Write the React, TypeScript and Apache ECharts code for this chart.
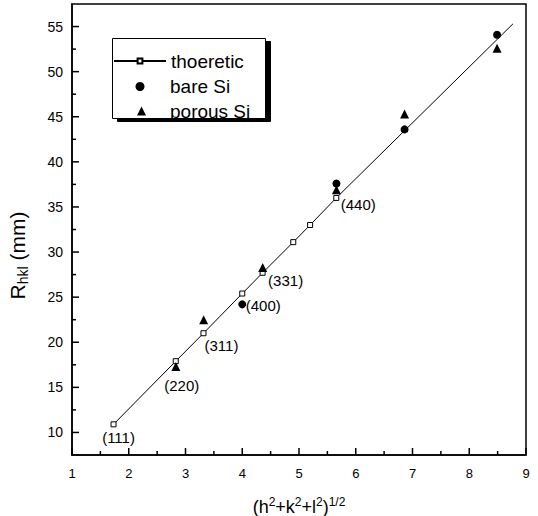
import React, { useEffect, useRef } from "react";
import * as echarts from "echarts";

const theoX = [1.732, 2.828, 3.317, 4.0, 4.359, 4.899, 5.196, 5.657];
const theoY = [10.9, 17.9, 21.0, 25.4, 27.7, 31.1, 33.0, 36.0];
const theoLabels = ["(111)", "(220)", "(311)", "(400)", "(331)", "", "", "(440)"];
const theoLineEnd = [8.77, 55.3];
const bareX = [4.0, 5.66, 6.86, 8.49];
const bareY = [24.2, 37.6, 43.6, 54.1];
const porousX = [2.83, 3.32, 4.36, 5.66, 6.86, 8.49];
const porousY = [17.3, 22.5, 28.3, 36.9, 45.3, 52.6];
const xTicks = [1, 2, 3, 4, 5, 6, 7, 8, 9];
const xMinorTicks = [1.5, 2.5, 3.5, 4.5, 5.5, 6.5, 7.5, 8.5];
const yTicks = [10, 15, 20, 25, 30, 35, 40, 45, 50, 55];
const yMinorTicks = [12.5, 17.5, 22.5, 27.5, 32.5, 37.5, 42.5, 47.5, 52.5];
const X_MIN = 1;
const X_MAX = 9;
const Y_MIN = 7.5;
const Y_MAX = 57.5;

const labelOffsets: number[][] = [
  [5, 13], [6, 24], [18, 12], [21, 12], [23, 8], [0, 0], [0, 0], [22, 7],
];

const FONT = "Liberation Sans, Arial, Helvetica, sans-serif";

const tickSeries = (data: number[][], size: number[], offset: number[]) => ({
  type: "scatter",
  data,
  symbol: "rect",
  symbolSize: size,
  symbolOffset: offset,
  itemStyle: { color: "#000", opacity: 1 },
  silent: true,
  clip: false,
  z: 4,
});

export default function App() {
  const ref = useRef<HTMLDivElement>(null);
  useEffect(() => {
    if (!ref.current) return;
    const chart = echarts.init(ref.current, undefined, { renderer: "svg" });
    const theoData: any[] = theoX.map((x, i) => ({
      value: [x, theoY[i]],
      label: theoLabels[i]
        ? {
            show: true,
            formatter: theoLabels[i],
            position: "inside",
            offset: labelOffsets[i],
            color: "#000",
            fontSize: 15,
            fontFamily: FONT,
          }
        : { show: false },
    }));
    theoData.push({ value: theoLineEnd, symbol: "none", label: { show: false } });

    const option: any = {
      animation: false,
      backgroundColor: "#fff",
      grid: {
        left: 72,
        right: 12,
        top: 4,
        bottom: 61,
        containLabel: false,
        outerBoundsMode: "none",
        show: true,
        borderColor: "#000",
        borderWidth: 1.5,
      },
      xAxis: {
        type: "value",
        min: X_MIN,
        max: X_MAX,
        interval: 1,
        name: "{t|(h}{u|2}{t|+k}{u|2}{t|+l}{u|2}{t|)}{u|1/2}",
        nameLocation: "middle",
        nameGap: 41,
        nameTextStyle: {
          color: "#000",
          fontFamily: FONT,
          rich: {
            t: { fontSize: 18, fontFamily: FONT, color: "#000", verticalAlign: "middle", lineHeight: 22 },
            u: { fontSize: 12, fontFamily: FONT, color: "#000", verticalAlign: "top", lineHeight: 6 },
          },
        },
        axisLine: { show: true, onZero: false, lineStyle: { color: "#000", width: 1.5 } },
        axisTick: { show: false },
        axisLabel: { show: true, color: "#000", fontSize: 13, fontFamily: FONT, margin: 12 },
        splitLine: { show: false },
      },
      yAxis: {
        type: "value",
        min: Y_MIN,
        max: Y_MAX,
        name: "{r|R}{s|hkl}{r| (mm)}",
        nameLocation: "middle",
        nameGap: 42,
        nameTextStyle: {
          color: "#000",
          fontFamily: FONT,
          padding: [0, 52, 0, 0],
          rich: {
            r: { fontSize: 21, fontFamily: FONT, color: "#000", verticalAlign: "middle", lineHeight: 26 },
            s: { fontSize: 14, fontFamily: FONT, color: "#000", verticalAlign: "bottom", lineHeight: 6 },
          },
        },
        axisLine: { show: true, onZero: false, lineStyle: { color: "#000", width: 1.5 } },
        axisTick: { show: false },
        axisLabel: { show: true, color: "#000", fontSize: 14, fontFamily: FONT, margin: 9, customValues: yTicks },
        splitLine: { show: false },
      },
      graphic: [
        {
          type: "rect",
          left: 112,
          top: 38,
          z: 3,
          shape: { width: 153, height: 80 },
          style: {
            fill: "#fff",
            stroke: "#000",
            lineWidth: 1,
            shadowColor: "#000",
            shadowOffsetX: 5,
            shadowOffsetY: 3,
            shadowBlur: 0,
          },
        },
      ],
      legend: [
        {
          data: ["thoeretic"],
          left: 113,
          top: 51.5,
          padding: 0,
          itemWidth: 52,
          itemHeight: 6,
          z: 5,
          textStyle: { color: "#000", fontSize: 19, fontFamily: FONT },
        },
        {
          data: [{ name: "bare Si", icon: "circle" }],
          left: 135.5,
          top: 77,
          padding: 0,
          itemWidth: 9,
          itemHeight: 9,
          z: 5,
          textStyle: { color: "#000", fontSize: 19, fontFamily: FONT, padding: [0, 0, 0, 20.5] },
        },
        {
          data: [{ name: "porous Si", icon: "triangle" }],
          left: 137,
          top: 101.5,
          padding: 0,
          itemWidth: 9,
          itemHeight: 9,
          z: 5,
          textStyle: { color: "#000", fontSize: 19, fontFamily: FONT, padding: [0, 0, 0, 19] },
        },
      ],
      series: [
        {
          name: "thoeretic",
          type: "line",
          data: theoData,
          symbol: "rect",
          symbolSize: 5,
          showAllSymbol: true,
          itemStyle: { color: "#fff", borderColor: "#000", borderWidth: 1 },
          lineStyle: { color: "#000", width: 1 },
          z: 2,
        },
        {
          name: "bare Si",
          type: "scatter",
          data: bareX.map((x, i) => [x, bareY[i]]),
          symbol: "circle",
          symbolSize: 8,
          itemStyle: { color: "#000", opacity: 1 },
          z: 3,
        },
        {
          name: "porous Si",
          type: "scatter",
          data: porousX.map((x, i) => [x, porousY[i]]),
          symbol: "triangle",
          symbolSize: 9,
          itemStyle: { color: "#000", opacity: 1 },
          z: 3,
        },
        tickSeries(xTicks.map((v) => [v, Y_MIN]), [1.5, 7], [0, -3.5]),
        tickSeries(xMinorTicks.map((v) => [v, Y_MIN]), [1.5, 4], [0, -2]),
        tickSeries(yTicks.map((v) => [X_MIN, v]), [7, 1.5], [3.5, 0]),
        tickSeries(yMinorTicks.map((v) => [X_MIN, v]), [4, 1.5], [2, 0]),
      ],
    };
    chart.setOption(option);
    return () => chart.dispose();
  }, []);
  return <div ref={ref} style={{ width: 538, height: 516, position: "absolute", left: 0, top: 0 }} />;
}
